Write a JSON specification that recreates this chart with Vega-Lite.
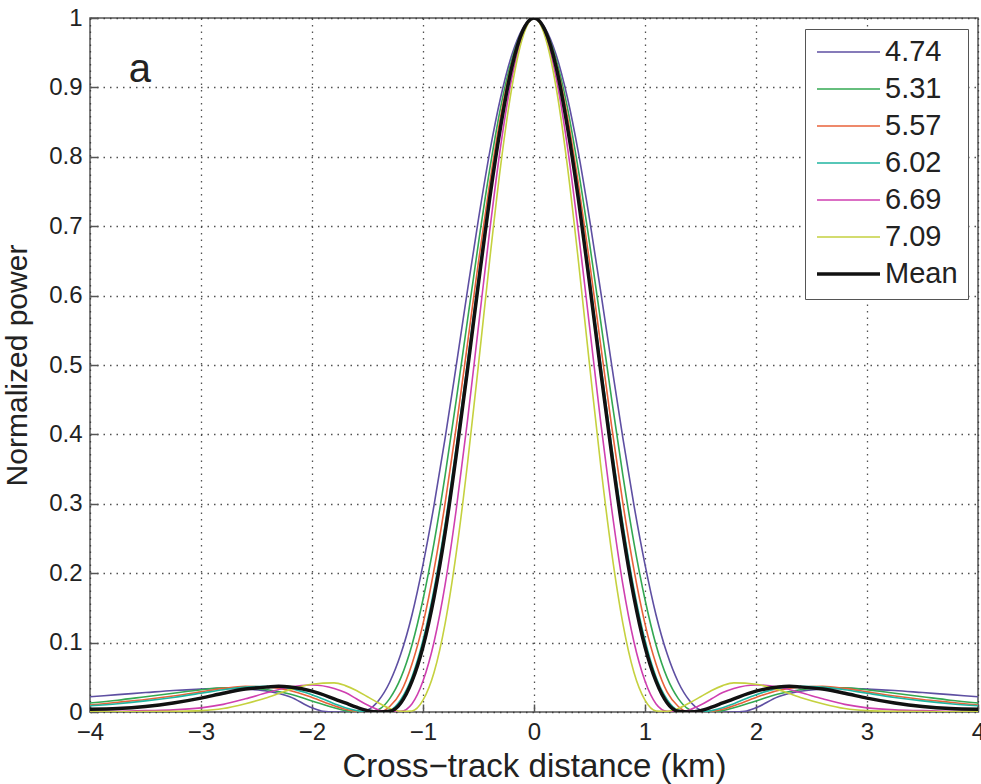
{
  "$schema": "https://vega.github.io/schema/vega-lite/v6.json",
  "width": 888,
  "height": 694,
  "autosize": "none",
  "padding": {"left": 90, "top": 18, "right": 3, "bottom": 72},
  "background": "white",
  "config": {
    "font": "Liberation Sans",
    "view": {"stroke": "#555", "strokeWidth": 1.5},
    "axis": {"labelFont": "Liberation Sans", "titleFont": "Liberation Sans", "labelColor": "#222", "titleColor": "#222", "titleFontWeight": "normal", "domain": false, "tickColor": "#555", "tickWidth": 1.5, "gridColor": "#333", "gridDash": [1.5, 5], "gridOpacity": 0.85, "gridWidth": 1.3}
  },
  "datasets": {
    "curves": [
      {"s":"4.74","x":-4,"y":0.022},{"s":"4.74","x":-3.75,"y":0.025},{"s":"4.74","x":-3.5,"y":0.028},{"s":"4.74","x":-3.25,"y":0.031},{"s":"4.74","x":-3,"y":0.033},{"s":"4.74","x":-2.8,"y":0.034},{"s":"4.74","x":-2.6,"y":0.033},{"s":"4.74","x":-2.4,"y":0.03},{"s":"4.74","x":-2.2,"y":0.022},{"s":"4.74","x":-2,"y":0.006},{"s":"4.74","x":-1.9,"y":0.001},{"s":"4.74","x":-1.8,"y":0},{"s":"4.74","x":-1.7,"y":0},{"s":"4.74","x":-1.6,"y":0},{"s":"4.74","x":-1.5,"y":0.003},{"s":"4.74","x":-1.4,"y":0.0167},{"s":"4.74","x":-1.3,"y":0.0429},{"s":"4.74","x":-1.2,"y":0.0834},{"s":"4.74","x":-1.1,"y":0.1395},{"s":"4.74","x":-1,"y":0.2124},{"s":"4.74","x":-0.9,"y":0.2984},{"s":"4.74","x":-0.8,"y":0.3953},{"s":"4.74","x":-0.7,"y":0.4999},{"s":"4.74","x":-0.6,"y":0.6067},{"s":"4.74","x":-0.5,"y":0.7104},{"s":"4.74","x":-0.4,"y":0.806},{"s":"4.74","x":-0.3,"y":0.8858},{"s":"4.74","x":-0.2,"y":0.9466},{"s":"4.74","x":-0.1,"y":0.9853},{"s":"4.74","x":0,"y":1},{"s":"4.74","x":0.1,"y":0.9853},{"s":"4.74","x":0.2,"y":0.9466},{"s":"4.74","x":0.3,"y":0.8858},{"s":"4.74","x":0.4,"y":0.806},{"s":"4.74","x":0.5,"y":0.7104},{"s":"4.74","x":0.6,"y":0.6067},{"s":"4.74","x":0.7,"y":0.4999},{"s":"4.74","x":0.8,"y":0.3953},{"s":"4.74","x":0.9,"y":0.2984},{"s":"4.74","x":1,"y":0.2124},{"s":"4.74","x":1.1,"y":0.1395},{"s":"4.74","x":1.2,"y":0.0834},{"s":"4.74","x":1.3,"y":0.0429},{"s":"4.74","x":1.4,"y":0.0167},{"s":"4.74","x":1.5,"y":0.003},{"s":"4.74","x":1.6,"y":0},{"s":"4.74","x":1.7,"y":0},{"s":"4.74","x":1.8,"y":0},{"s":"4.74","x":1.9,"y":0.001},{"s":"4.74","x":2,"y":0.006},{"s":"4.74","x":2.2,"y":0.022},{"s":"4.74","x":2.4,"y":0.03},{"s":"4.74","x":2.6,"y":0.033},{"s":"4.74","x":2.8,"y":0.034},{"s":"4.74","x":3,"y":0.033},{"s":"4.74","x":3.25,"y":0.031},{"s":"4.74","x":3.5,"y":0.028},{"s":"4.74","x":3.75,"y":0.025},{"s":"4.74","x":4,"y":0.022},

      {"s":"5.31","x":-4,"y":0.013},{"s":"5.31","x":-3.75,"y":0.017},{"s":"5.31","x":-3.5,"y":0.022},{"s":"5.31","x":-3.25,"y":0.027},{"s":"5.31","x":-3,"y":0.032},{"s":"5.31","x":-2.8,"y":0.035},{"s":"5.31","x":-2.6,"y":0.035},{"s":"5.31","x":-2.4,"y":0.032},{"s":"5.31","x":-2.2,"y":0.026},{"s":"5.31","x":-2,"y":0.016},{"s":"5.31","x":-1.8,"y":0.006},{"s":"5.31","x":-1.7,"y":0.002},{"s":"5.31","x":-1.6,"y":0},{"s":"5.31","x":-1.5,"y":0},{"s":"5.31","x":-1.4,"y":0.0035},{"s":"5.31","x":-1.3,"y":0.0193},{"s":"5.31","x":-1.2,"y":0.0491},{"s":"5.31","x":-1.1,"y":0.0962},{"s":"5.31","x":-1,"y":0.1621},{"s":"5.31","x":-0.9,"y":0.2442},{"s":"5.31","x":-0.8,"y":0.3416},{"s":"5.31","x":-0.7,"y":0.45},{"s":"5.31","x":-0.6,"y":0.5637},{"s":"5.31","x":-0.5,"y":0.6761},{"s":"5.31","x":-0.4,"y":0.7807},{"s":"5.31","x":-0.3,"y":0.8716},{"s":"5.31","x":-0.2,"y":0.94},{"s":"5.31","x":-0.1,"y":0.9833},{"s":"5.31","x":0,"y":1},{"s":"5.31","x":0.1,"y":0.9833},{"s":"5.31","x":0.2,"y":0.94},{"s":"5.31","x":0.3,"y":0.8716},{"s":"5.31","x":0.4,"y":0.7807},{"s":"5.31","x":0.5,"y":0.6761},{"s":"5.31","x":0.6,"y":0.5637},{"s":"5.31","x":0.7,"y":0.45},{"s":"5.31","x":0.8,"y":0.3416},{"s":"5.31","x":0.9,"y":0.2442},{"s":"5.31","x":1,"y":0.1621},{"s":"5.31","x":1.1,"y":0.0962},{"s":"5.31","x":1.2,"y":0.0491},{"s":"5.31","x":1.3,"y":0.0193},{"s":"5.31","x":1.4,"y":0.0035},{"s":"5.31","x":1.5,"y":0},{"s":"5.31","x":1.6,"y":0},{"s":"5.31","x":1.7,"y":0.002},{"s":"5.31","x":1.8,"y":0.006},{"s":"5.31","x":2,"y":0.016},{"s":"5.31","x":2.2,"y":0.026},{"s":"5.31","x":2.4,"y":0.032},{"s":"5.31","x":2.6,"y":0.035},{"s":"5.31","x":2.8,"y":0.035},{"s":"5.31","x":3,"y":0.032},{"s":"5.31","x":3.25,"y":0.027},{"s":"5.31","x":3.5,"y":0.022},{"s":"5.31","x":3.75,"y":0.017},{"s":"5.31","x":4,"y":0.013},

      {"s":"5.57","x":-4,"y":0.01},{"s":"5.57","x":-3.75,"y":0.014},{"s":"5.57","x":-3.5,"y":0.018},{"s":"5.57","x":-3.25,"y":0.023},{"s":"5.57","x":-3,"y":0.029},{"s":"5.57","x":-2.8,"y":0.034},{"s":"5.57","x":-2.6,"y":0.037},{"s":"5.57","x":-2.4,"y":0.036},{"s":"5.57","x":-2.2,"y":0.031},{"s":"5.57","x":-2,"y":0.021},{"s":"5.57","x":-1.8,"y":0.009},{"s":"5.57","x":-1.7,"y":0.004},{"s":"5.57","x":-1.6,"y":0.001},{"s":"5.57","x":-1.5,"y":0},{"s":"5.57","x":-1.4,"y":0.0001},{"s":"5.57","x":-1.3,"y":0.0079},{"s":"5.57","x":-1.2,"y":0.0285},{"s":"5.57","x":-1.1,"y":0.0688},{"s":"5.57","x":-1,"y":0.127},{"s":"5.57","x":-0.9,"y":0.2054},{"s":"5.57","x":-0.8,"y":0.3016},{"s":"5.57","x":-0.7,"y":0.4112},{"s":"5.57","x":-0.6,"y":0.5296},{"s":"5.57","x":-0.5,"y":0.6489},{"s":"5.57","x":-0.4,"y":0.7609},{"s":"5.57","x":-0.3,"y":0.8587},{"s":"5.57","x":-0.2,"y":0.9346},{"s":"5.57","x":-0.1,"y":0.9816},{"s":"5.57","x":0,"y":1},{"s":"5.57","x":0.1,"y":0.9816},{"s":"5.57","x":0.2,"y":0.9346},{"s":"5.57","x":0.3,"y":0.8587},{"s":"5.57","x":0.4,"y":0.7609},{"s":"5.57","x":0.5,"y":0.6489},{"s":"5.57","x":0.6,"y":0.5296},{"s":"5.57","x":0.7,"y":0.4112},{"s":"5.57","x":0.8,"y":0.3016},{"s":"5.57","x":0.9,"y":0.2054},{"s":"5.57","x":1,"y":0.127},{"s":"5.57","x":1.1,"y":0.0688},{"s":"5.57","x":1.2,"y":0.0285},{"s":"5.57","x":1.3,"y":0.0079},{"s":"5.57","x":1.4,"y":0.0001},{"s":"5.57","x":1.5,"y":0},{"s":"5.57","x":1.6,"y":0.001},{"s":"5.57","x":1.7,"y":0.004},{"s":"5.57","x":1.8,"y":0.009},{"s":"5.57","x":2,"y":0.021},{"s":"5.57","x":2.2,"y":0.031},{"s":"5.57","x":2.4,"y":0.036},{"s":"5.57","x":2.6,"y":0.037},{"s":"5.57","x":2.8,"y":0.034},{"s":"5.57","x":3,"y":0.029},{"s":"5.57","x":3.25,"y":0.023},{"s":"5.57","x":3.5,"y":0.018},{"s":"5.57","x":3.75,"y":0.014},{"s":"5.57","x":4,"y":0.01},

      {"s":"6.02","x":-4,"y":0.009},{"s":"6.02","x":-3.75,"y":0.012},{"s":"6.02","x":-3.5,"y":0.016},{"s":"6.02","x":-3.25,"y":0.021},{"s":"6.02","x":-3,"y":0.027},{"s":"6.02","x":-2.8,"y":0.032},{"s":"6.02","x":-2.6,"y":0.036},{"s":"6.02","x":-2.4,"y":0.037},{"s":"6.02","x":-2.2,"y":0.034},{"s":"6.02","x":-2,"y":0.025},{"s":"6.02","x":-1.8,"y":0.012},{"s":"6.02","x":-1.7,"y":0.006},{"s":"6.02","x":-1.6,"y":0.002},{"s":"6.02","x":-1.5,"y":0},{"s":"6.02","x":-1.4,"y":0},{"s":"6.02","x":-1.3,"y":0.0024},{"s":"6.02","x":-1.2,"y":0.0179},{"s":"6.02","x":-1.1,"y":0.0502},{"s":"6.02","x":-1,"y":0.1034},{"s":"6.02","x":-0.9,"y":0.1775},{"s":"6.02","x":-0.8,"y":0.2715},{"s":"6.02","x":-0.7,"y":0.3822},{"s":"6.02","x":-0.6,"y":0.503},{"s":"6.02","x":-0.5,"y":0.627},{"s":"6.02","x":-0.4,"y":0.7455},{"s":"6.02","x":-0.3,"y":0.8485},{"s":"6.02","x":-0.2,"y":0.9305},{"s":"6.02","x":-0.1,"y":0.9804},{"s":"6.02","x":0,"y":1},{"s":"6.02","x":0.1,"y":0.9804},{"s":"6.02","x":0.2,"y":0.9305},{"s":"6.02","x":0.3,"y":0.8485},{"s":"6.02","x":0.4,"y":0.7455},{"s":"6.02","x":0.5,"y":0.627},{"s":"6.02","x":0.6,"y":0.503},{"s":"6.02","x":0.7,"y":0.3822},{"s":"6.02","x":0.8,"y":0.2715},{"s":"6.02","x":0.9,"y":0.1775},{"s":"6.02","x":1,"y":0.1034},{"s":"6.02","x":1.1,"y":0.0502},{"s":"6.02","x":1.2,"y":0.0179},{"s":"6.02","x":1.3,"y":0.0024},{"s":"6.02","x":1.4,"y":0},{"s":"6.02","x":1.5,"y":0},{"s":"6.02","x":1.6,"y":0.002},{"s":"6.02","x":1.7,"y":0.006},{"s":"6.02","x":1.8,"y":0.012},{"s":"6.02","x":2,"y":0.025},{"s":"6.02","x":2.2,"y":0.034},{"s":"6.02","x":2.4,"y":0.037},{"s":"6.02","x":2.6,"y":0.036},{"s":"6.02","x":2.8,"y":0.032},{"s":"6.02","x":3,"y":0.027},{"s":"6.02","x":3.25,"y":0.021},{"s":"6.02","x":3.5,"y":0.016},{"s":"6.02","x":3.75,"y":0.012},{"s":"6.02","x":4,"y":0.009},

      {"s":"6.69","x":-4,"y":0.001},{"s":"6.69","x":-3.75,"y":0.001},{"s":"6.69","x":-3.5,"y":0.002},{"s":"6.69","x":-3.25,"y":0.003},{"s":"6.69","x":-3,"y":0.006},{"s":"6.69","x":-2.8,"y":0.011},{"s":"6.69","x":-2.6,"y":0.019},{"s":"6.69","x":-2.4,"y":0.028},{"s":"6.69","x":-2.2,"y":0.036},{"s":"6.69","x":-2,"y":0.039},{"s":"6.69","x":-1.8,"y":0.034},{"s":"6.69","x":-1.7,"y":0.028},{"s":"6.69","x":-1.6,"y":0.019},{"s":"6.69","x":-1.5,"y":0.01},{"s":"6.69","x":-1.4,"y":0.003},{"s":"6.69","x":-1.3,"y":0},{"s":"6.69","x":-1.2,"y":0.0009},{"s":"6.69","x":-1.1,"y":0.0116},{"s":"6.69","x":-1,"y":0.0446},{"s":"6.69","x":-0.9,"y":0.1012},{"s":"6.69","x":-0.8,"y":0.1841},{"s":"6.69","x":-0.7,"y":0.2925},{"s":"6.69","x":-0.6,"y":0.4189},{"s":"6.69","x":-0.5,"y":0.5561},{"s":"6.69","x":-0.4,"y":0.6921},{"s":"6.69","x":-0.3,"y":0.8159},{"s":"6.69","x":-0.2,"y":0.9134},{"s":"6.69","x":-0.1,"y":0.9762},{"s":"6.69","x":0,"y":1},{"s":"6.69","x":0.1,"y":0.9762},{"s":"6.69","x":0.2,"y":0.9134},{"s":"6.69","x":0.3,"y":0.8159},{"s":"6.69","x":0.4,"y":0.6921},{"s":"6.69","x":0.5,"y":0.5561},{"s":"6.69","x":0.6,"y":0.4189},{"s":"6.69","x":0.7,"y":0.2925},{"s":"6.69","x":0.8,"y":0.1841},{"s":"6.69","x":0.9,"y":0.1012},{"s":"6.69","x":1,"y":0.0446},{"s":"6.69","x":1.1,"y":0.0116},{"s":"6.69","x":1.2,"y":0.0009},{"s":"6.69","x":1.3,"y":0},{"s":"6.69","x":1.4,"y":0.003},{"s":"6.69","x":1.5,"y":0.01},{"s":"6.69","x":1.6,"y":0.019},{"s":"6.69","x":1.7,"y":0.028},{"s":"6.69","x":1.8,"y":0.034},{"s":"6.69","x":2,"y":0.039},{"s":"6.69","x":2.2,"y":0.036},{"s":"6.69","x":2.4,"y":0.028},{"s":"6.69","x":2.6,"y":0.019},{"s":"6.69","x":2.8,"y":0.011},{"s":"6.69","x":3,"y":0.006},{"s":"6.69","x":3.25,"y":0.003},{"s":"6.69","x":3.5,"y":0.002},{"s":"6.69","x":3.75,"y":0.001},{"s":"6.69","x":4,"y":0.001},

      {"s":"7.09","x":-4,"y":0.0002},{"s":"7.09","x":-3.75,"y":0.0003},{"s":"7.09","x":-3.5,"y":0.0005},{"s":"7.09","x":-3.25,"y":0.001},{"s":"7.09","x":-3,"y":0.002},{"s":"7.09","x":-2.8,"y":0.005},{"s":"7.09","x":-2.6,"y":0.012},{"s":"7.09","x":-2.4,"y":0.021},{"s":"7.09","x":-2.2,"y":0.032},{"s":"7.09","x":-2,"y":0.04},{"s":"7.09","x":-1.8,"y":0.042},{"s":"7.09","x":-1.7,"y":0.038},{"s":"7.09","x":-1.6,"y":0.031},{"s":"7.09","x":-1.5,"y":0.022},{"s":"7.09","x":-1.4,"y":0.013},{"s":"7.09","x":-1.3,"y":0.005},{"s":"7.09","x":-1.2,"y":0.001},{"s":"7.09","x":-1.1,"y":0.0015},{"s":"7.09","x":-1,"y":0.017},{"s":"7.09","x":-0.9,"y":0.0572},{"s":"7.09","x":-0.8,"y":0.1281},{"s":"7.09","x":-0.7,"y":0.2296},{"s":"7.09","x":-0.6,"y":0.3566},{"s":"7.09","x":-0.5,"y":0.5008},{"s":"7.09","x":-0.4,"y":0.6499},{"s":"7.09","x":-0.3,"y":0.7877},{"s":"7.09","x":-0.2,"y":0.8995},{"s":"7.09","x":-0.1,"y":0.9731},{"s":"7.09","x":0,"y":1},{"s":"7.09","x":0.1,"y":0.9731},{"s":"7.09","x":0.2,"y":0.8995},{"s":"7.09","x":0.3,"y":0.7877},{"s":"7.09","x":0.4,"y":0.6499},{"s":"7.09","x":0.5,"y":0.5008},{"s":"7.09","x":0.6,"y":0.3566},{"s":"7.09","x":0.7,"y":0.2296},{"s":"7.09","x":0.8,"y":0.1281},{"s":"7.09","x":0.9,"y":0.0572},{"s":"7.09","x":1,"y":0.017},{"s":"7.09","x":1.1,"y":0.0015},{"s":"7.09","x":1.2,"y":0.001},{"s":"7.09","x":1.3,"y":0.005},{"s":"7.09","x":1.4,"y":0.013},{"s":"7.09","x":1.5,"y":0.022},{"s":"7.09","x":1.6,"y":0.031},{"s":"7.09","x":1.7,"y":0.038},{"s":"7.09","x":1.8,"y":0.042},{"s":"7.09","x":2,"y":0.04},{"s":"7.09","x":2.2,"y":0.032},{"s":"7.09","x":2.4,"y":0.021},{"s":"7.09","x":2.6,"y":0.012},{"s":"7.09","x":2.8,"y":0.005},{"s":"7.09","x":3,"y":0.002},{"s":"7.09","x":3.25,"y":0.001},{"s":"7.09","x":3.5,"y":0.0005},{"s":"7.09","x":3.75,"y":0.0003},{"s":"7.09","x":4,"y":0.0002},

      {"s":"Mean","x":-4,"y":0.004},{"s":"Mean","x":-3.75,"y":0.005},{"s":"Mean","x":-3.5,"y":0.008},{"s":"Mean","x":-3.25,"y":0.013},{"s":"Mean","x":-3,"y":0.02},{"s":"Mean","x":-2.8,"y":0.027},{"s":"Mean","x":-2.6,"y":0.033},{"s":"Mean","x":-2.4,"y":0.036},{"s":"Mean","x":-2.3,"y":0.037},{"s":"Mean","x":-2.2,"y":0.036},{"s":"Mean","x":-2,"y":0.03},{"s":"Mean","x":-1.8,"y":0.019},{"s":"Mean","x":-1.7,"y":0.013},{"s":"Mean","x":-1.6,"y":0.007},{"s":"Mean","x":-1.5,"y":0.002},{"s":"Mean","x":-1.4,"y":0},{"s":"Mean","x":-1.3,"y":0.001},{"s":"Mean","x":-1.2,"y":0.013},{"s":"Mean","x":-1.1,"y":0.044},{"s":"Mean","x":-1,"y":0.094},{"s":"Mean","x":-0.9,"y":0.166},{"s":"Mean","x":-0.8,"y":0.259},{"s":"Mean","x":-0.7,"y":0.371},{"s":"Mean","x":-0.6,"y":0.492},{"s":"Mean","x":-0.5,"y":0.618},{"s":"Mean","x":-0.4,"y":0.739},{"s":"Mean","x":-0.3,"y":0.844},{"s":"Mean","x":-0.2,"y":0.929},{"s":"Mean","x":-0.1,"y":0.982},{"s":"Mean","x":0,"y":1},{"s":"Mean","x":0.1,"y":0.982},{"s":"Mean","x":0.2,"y":0.929},{"s":"Mean","x":0.3,"y":0.844},{"s":"Mean","x":0.4,"y":0.739},{"s":"Mean","x":0.5,"y":0.618},{"s":"Mean","x":0.6,"y":0.492},{"s":"Mean","x":0.7,"y":0.371},{"s":"Mean","x":0.8,"y":0.259},{"s":"Mean","x":0.9,"y":0.166},{"s":"Mean","x":1,"y":0.094},{"s":"Mean","x":1.1,"y":0.044},{"s":"Mean","x":1.2,"y":0.013},{"s":"Mean","x":1.3,"y":0.001},{"s":"Mean","x":1.4,"y":0},{"s":"Mean","x":1.5,"y":0.002},{"s":"Mean","x":1.6,"y":0.007},{"s":"Mean","x":1.7,"y":0.013},{"s":"Mean","x":1.8,"y":0.019},{"s":"Mean","x":2,"y":0.03},{"s":"Mean","x":2.2,"y":0.036},{"s":"Mean","x":2.3,"y":0.037},{"s":"Mean","x":2.4,"y":0.036},{"s":"Mean","x":2.6,"y":0.033},{"s":"Mean","x":2.8,"y":0.027},{"s":"Mean","x":3,"y":0.02},{"s":"Mean","x":3.25,"y":0.013},{"s":"Mean","x":3.5,"y":0.008},{"s":"Mean","x":3.75,"y":0.005},{"s":"Mean","x":4,"y":0.004}
    ]
  },
  "layer": [
    {
      "data": {"name": "curves"},
      "mark": {"type": "line", "interpolate": "monotone", "clip": true},
      "encoding": {
        "x": {"field": "x", "type": "quantitative", "scale": {"domain": [-4, 4], "nice": false},
          "axis": {"values": [-4, -3, -2, -1, 0, 1, 2, 3, 4], "format": "d", "labelExpr": "replace(datum.label, '-', '\u2212')", "title": "Cross\u2212track distance (km)", "labelFontSize": 24, "titleFontSize": 33, "labelPadding": 16, "titlePadding": 6, "tickSize": -8, "labelFlush": false}},
        "y": {"field": "y", "type": "quantitative", "scale": {"domain": [0, 1], "nice": false},
          "axis": {"values": [0, 0.1, 0.2, 0.3, 0.4, 0.5, 0.6, 0.7, 0.8, 0.9, 1], "format": "~g", "title": "Normalized power", "labelFontSize": 24, "titleFontSize": 30, "labelPadding": 16, "titlePadding": 16, "tickSize": -8, "labelFlush": false}},
        "color": {"field": "s", "type": "nominal",
          "scale": {"domain": ["4.74", "5.31", "5.57", "6.02", "6.69", "7.09", "Mean"], "range": ["#5e4fa2", "#33a852", "#e8623a", "#1fb5a0", "#cf3fb0", "#c5d13f", "#111111"]},
          "legend": {"title": null, "orient": "none", "legendX": 715, "legendY": 11, "symbolType": "stroke", "symbolSize": 3969, "labelFontSize": 29, "labelColor": "#222", "labelFont": "Liberation Sans", "clipHeight": 26, "rowPadding": 8, "padding": 10, "strokeColor": "#555", "fillColor": "white", "labelOffset": 3}},
        "strokeWidth": {"field": "s", "type": "nominal",
          "scale": {"type": "ordinal", "domain": ["4.74", "5.31", "5.57", "6.02", "6.69", "7.09", "Mean"], "range": [1.6, 1.6, 1.6, 1.6, 1.6, 1.6, 3.5]},
          "legend": {"title": null, "orient": "none", "legendX": 715, "legendY": 11, "symbolType": "stroke", "symbolSize": 3969, "labelFontSize": 29, "labelColor": "#222", "labelFont": "Liberation Sans", "clipHeight": 26, "rowPadding": 8, "padding": 10, "strokeColor": "#555", "fillColor": "white", "labelOffset": 3}},
        "order": {"field": "s", "sort": "ascending"}
      }
    },
    {
      "data": {"values": [{}]},
      "mark": {"type": "text", "fontSize": 40, "font": "Liberation Sans", "color": "#222", "align": "center", "baseline": "middle"},
      "encoding": {"x": {"datum": -3.55}, "y": {"datum": 0.925}, "text": {"value": "a"}}
    }
  ]
}
